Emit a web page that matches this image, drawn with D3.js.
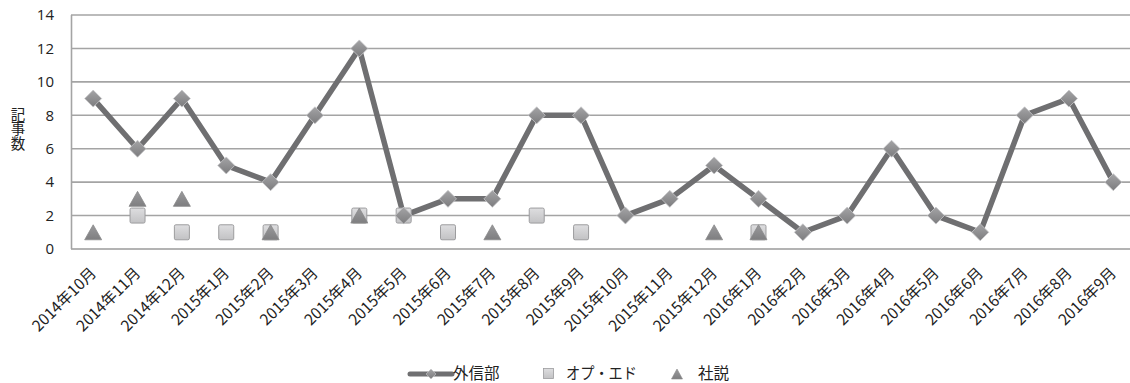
<!DOCTYPE html>
<html><head><meta charset="utf-8">
<script src="https://cdn.jsdelivr.net/npm/d3@7"></script>
<style>
html,body{margin:0;padding:0;background:#fff;}
svg{display:block;}
text{font-family:"Noto Sans CJK JP","Noto Sans",sans-serif;fill:#222;}
</style></head>
<body>
<svg id="c" width="1130" height="383"></svg>
<script>
const categories = ["2014年10月","2014年11月","2014年12月","2015年1月","2015年2月","2015年3月","2015年4月","2015年5月","2015年6月","2015年7月","2015年8月","2015年9月","2015年10月","2015年11月","2015年12月","2016年1月","2016年2月","2016年3月","2016年4月","2016年5月","2016年6月","2016年7月","2016年8月","2016年9月"];
const gaishinbu = [9,6,9,5,4,8,12,2,3,3,8,8,2,3,5,3,1,2,6,2,1,8,9,4];
const opedCats = ["2014年11月","2014年12月","2015年1月","2015年2月","2015年4月","2015年5月","2015年6月","2015年8月","2015年9月","2016年1月"];
const opedVals = [2,1,1,1,2,2,1,2,1,1];
const shasetsuCats = ["2014年10月","2014年11月","2014年12月","2015年2月","2015年4月","2015年7月","2015年12月","2016年1月"];
const shasetsuVals = [1,3,3,1,2,1,1,1];
const yTicks = [0,2,4,6,8,10,12,14];
const seriesNames = ["外信部","オプ・エド","社説"];
const yTitle = "記事数";

const svg = d3.select("#c");
const defs = svg.append("defs");
const gD = defs.append("linearGradient").attr("id","gd").attr("x1",0).attr("y1",0).attr("x2",0).attr("y2",1);
gD.append("stop").attr("offset","0%").attr("stop-color","#a4a4a6");
gD.append("stop").attr("offset","100%").attr("stop-color","#7c7c7e");
const gS = defs.append("linearGradient").attr("id","gs").attr("x1",0).attr("y1",0).attr("x2",0).attr("y2",1);
gS.append("stop").attr("offset","0%").attr("stop-color","#dedee0");
gS.append("stop").attr("offset","100%").attr("stop-color","#c2c2c4");
const gT = defs.append("linearGradient").attr("id","gt").attr("x1",0).attr("y1",0).attr("x2",0).attr("y2",1);
gT.append("stop").attr("offset","0%").attr("stop-color","#9a9a9c");
gT.append("stop").attr("offset","100%").attr("stop-color","#7e7e80");

const x = d3.scaleBand().domain(categories).range([71, 1135.5]);
const cx = c => x(c) + x.bandwidth()/2;
const y = d3.scaleLinear().domain([0,14]).range([249, 15]);

// gridlines
svg.append("g").selectAll("line").data(yTicks).join("line")
  .attr("x1",71).attr("x2",1130).attr("y1",d=>y(d)).attr("y2",d=>y(d))
  .attr("stroke", d=> d===0 ? "#9a9a9a" : "#a4a4a4").attr("stroke-width",1.6);
svg.append("line").attr("x1",71.5).attr("x2",71.5).attr("y1",y(14)).attr("y2",y(0))
  .attr("stroke","#a4a4a4").attr("stroke-width",1.6);

// y axis labels
const yAxis = d3.axisLeft(y).tickValues(yTicks).tickSize(0).tickPadding(17);
const ya = svg.append("g").attr("transform","translate(71,0)").call(yAxis);
ya.select(".domain").remove();
ya.selectAll("text").style("font-size","15px").style("fill","#222")
  .style("font-family",'"Open Sans","Noto Sans",sans-serif');

// y title vertical
svg.append("text").attr("x",18).attr("y",107)
  .style("writing-mode","vertical-rl").style("font-size","14.5px")
  .text(yTitle);

// x labels
svg.append("g").selectAll("text").data(categories).join("text")
  .attr("transform", d=>`translate(${cx(d)+4},${274}) rotate(-45)`)
  .attr("text-anchor","end")
  .style("font-size","15.5px").text(d=>d);

// line
const line = d3.line().x((d,i)=>cx(categories[i])).y(d=>y(d));
svg.append("path").datum(gaishinbu).attr("d",line).attr("fill","none")
  .attr("stroke","#6f6f71").attr("stroke-width",5.5).attr("stroke-linejoin","round");

// oped squares
const sq = 15;
svg.append("g").selectAll("rect").data(opedVals).join("rect")
  .attr("x",(d,i)=>cx(opedCats[i])-sq/2).attr("y",d=>y(d)-sq/2)
  .attr("width",sq).attr("height",sq).attr("rx",1.5)
  .attr("fill","url(#gs)").attr("stroke","#9c9c9e").attr("stroke-width",1);

// shasetsu triangles
const tri = (px,py,w,h) => `M${px},${py-h/2}L${px+w/2},${py+h/2}L${px-w/2},${py+h/2}Z`;
svg.append("g").selectAll("path").data(shasetsuVals).join("path")
  .attr("d",(d,i)=>tri(cx(shasetsuCats[i]), y(d), 17, 15))
  .attr("fill","url(#gt)").attr("stroke","#8a8a8c").attr("stroke-width",0.8);

// diamonds
const ds = 8.5;
svg.append("g").selectAll("path").data(gaishinbu).join("path")
  .attr("d",(d,i)=>{const px=cx(categories[i]), py=y(d); return `M${px},${py-ds}L${px+ds},${py}L${px},${py+ds}L${px-ds},${py}Z`;})
  .attr("fill","url(#gd)").attr("stroke","#c8c8ca").attr("stroke-width",0.8);

// legend
const ly = 373;
const lg = svg.append("g");
lg.append("line").attr("x1",410).attr("x2",452).attr("y1",ly+1).attr("y2",ly+1)
  .attr("stroke","#6f6f71").attr("stroke-width",5).attr("stroke-linecap","round");
lg.append("path").attr("d",`M431,${ly-4}L436,${ly+1}L431,${ly+6}L426,${ly+1}Z`).attr("fill","url(#gd)").attr("stroke","#c8c8ca").attr("stroke-width",0.6);
lg.append("text").attr("x",453).attr("y",ly).attr("dy","0.36em").style("font-size","15.5px").text(seriesNames[0]);
lg.append("rect").attr("x",543.5).attr("y",ly-4.5).attr("width",10).attr("height",10).attr("fill","url(#gs)").attr("stroke","#9c9c9e").attr("stroke-width",0.8);
lg.append("text").attr("x",566).attr("y",ly).attr("dy","0.36em").style("font-size","15.5px")
  .attr("textLength",71).attr("lengthAdjust","spacingAndGlyphs").text(seriesNames[1]);
lg.append("path").attr("d",tri(677,ly+1,11,10)).attr("fill","url(#gt)").attr("stroke","#8a8a8c").attr("stroke-width",0.6);
lg.append("text").attr("x",698).attr("y",ly).attr("dy","0.36em").style("font-size","15.5px").text(seriesNames[2]);
</script>
</body></html>
